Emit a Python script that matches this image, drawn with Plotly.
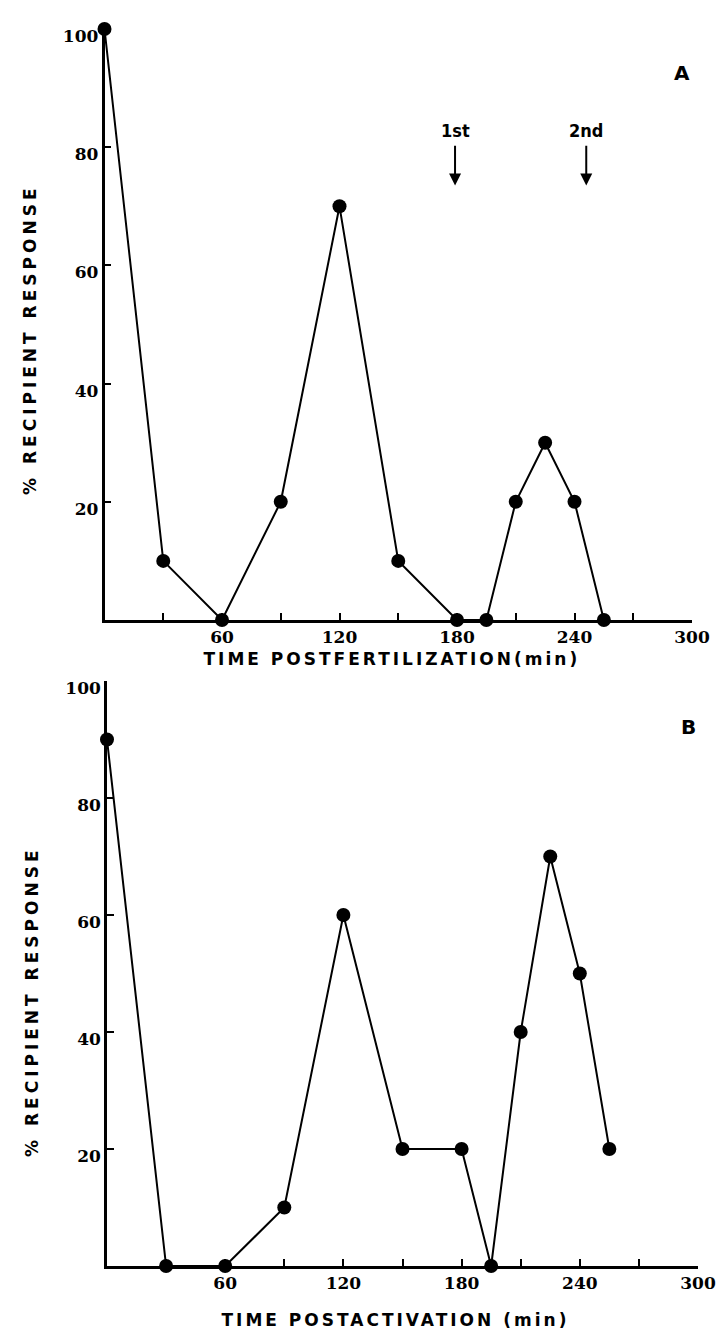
import plotly.graph_objects as go

# ---- data ----
time_a = [0, 30, 60, 90, 120, 150, 180, 195, 210, 225, 240, 255]
resp_a = [100, 10, 0, 20, 70, 10, 0, 0, 20, 30, 20, 0]

time_b = [0, 30, 60, 90, 120, 150, 180, 195, 210, 225, 240, 255]
resp_b = [90, 0, 0, 10, 60, 20, 20, 0, 40, 70, 50, 20]

x_tickvals = [30, 60, 90, 120, 150, 180, 210, 240, 270, 300]
x_ticktext = ["", "60", "", "120", "", "180", "", "240", "", "300"]
y_tickvals_a = [20, 40, 60, 80, 100]
y_tickvals_b = [20, 40, 60, 80, 100]
y_ticktext = ["20", "40", "60", "80", "100"]

arrow_times = [179, 246]
arrow_labels = ["1st", "2nd"]

x_title_a = "TIME POSTFERTILIZATION(min)"
x_title_b = "TIME POSTACTIVATION (min)"
y_title = "% RECIPIENT RESPONSE"

W, H = 721, 1336

tickfont = dict(family="DejaVu Serif", size=17, color="black", weight="bold")
titlefont = dict(family="DejaVu Sans", size=17, color="black", weight="bold")

fig = go.Figure()
line_style = dict(color="black", width=2)
marker_style = dict(color="black", size=14)

fig.add_trace(go.Scatter(x=time_a, y=resp_a, mode="lines+markers", line=line_style,
                         marker=marker_style, cliponaxis=False, xaxis="x", yaxis="y",
                         showlegend=False))
fig.add_trace(go.Scatter(x=time_b, y=resp_b, mode="lines+markers", line=line_style,
                         marker=marker_style, cliponaxis=False, xaxis="x2", yaxis="y2",
                         showlegend=False))

def xaxis(domain, anchor):
    return dict(domain=domain, anchor=anchor, range=[0, 300], showgrid=False, zeroline=False,
                showline=True, linecolor="black", linewidth=2.5,
                tickmode="array", tickvals=x_tickvals, ticktext=x_ticktext,
                ticks="inside", ticklen=7, tickwidth=1.5, tickcolor="black",
                tickfont=tickfont, ticklabelstandoff=0)

def yaxis(domain, anchor, tickvals):
    return dict(domain=domain, anchor=anchor, range=[0, 100], showgrid=False, zeroline=False,
                showline=True, linecolor="black", linewidth=2.5,
                tickmode="array", tickvals=tickvals, ticktext=y_ticktext,
                ticks="inside", ticklen=7, tickwidth=1.5, tickcolor="black",
                tickfont=tickfont, ticklabelshift=7, ticklabelstandoff=0)

xa = [104.5 / W, 692 / W]
ya = [1 - 620 / H, 1 - 29 / H]
xb = [107 / W, 698 / W]
yb = [1 - 1266 / H, 1 - 681 / H]

fig.update_layout(
    width=W, height=H, autosize=False,
    margin=dict(l=0, r=0, t=0, b=0, pad=0, autoexpand=False),
    paper_bgcolor="white", plot_bgcolor="white",
    xaxis=xaxis(xa, "y"),
    yaxis=yaxis(ya, "x", y_tickvals_a),
    xaxis2=xaxis(xb, "y2"),
    yaxis2=yaxis(yb, "x2", y_tickvals_b),
)

ann = []
# axis titles
ann.append(dict(text=x_title_a, xref="paper", yref="paper", x=392 / W, y=1 - 659 / H,
                showarrow=False, font=titlefont, xanchor="center", yanchor="middle"))
ann.append(dict(text=x_title_b, xref="paper", yref="paper", x=395 / W, y=1 - 1320 / H,
                showarrow=False, font=titlefont, xanchor="center", yanchor="middle"))
ann.append(dict(text=y_title, xref="paper", yref="paper", x=30 / W, y=1 - 340 / H,
                showarrow=False, font=titlefont, textangle=-90, xanchor="center", yanchor="middle"))
ann.append(dict(text=y_title, xref="paper", yref="paper", x=32 / W, y=1 - 1002 / H,
                showarrow=False, font=titlefont, textangle=-90, xanchor="center", yanchor="middle"))
# panel letters
ann.append(dict(text="A", xref="paper", yref="paper", x=682 / W, y=1 - 73 / H,
                showarrow=False, font=dict(family="DejaVu Sans", size=20, color="black", weight="bold"),
                xanchor="center", yanchor="middle"))
ann.append(dict(text="B", xref="paper", yref="paper", x=688 / W, y=1 - 727 / H,
                showarrow=False, font=dict(family="DejaVu Sans", size=20, color="black", weight="bold"),
                xanchor="center", yanchor="middle"))
# arrows
for t, lab in zip(arrow_times, arrow_labels):
    ann.append(dict(text="", x=t, y=73.5, ax=t, ay=80.5, xref="x", yref="y", axref="x", ayref="y",
                    showarrow=True, arrowhead=2, arrowsize=1.2, arrowwidth=2, arrowcolor="black"))
    ann.append(dict(text=lab, x=t, y=82.8, xref="x", yref="y", showarrow=False,
                    font=dict(family="DejaVu Sans Condensed", size=18, color="black", weight="bold"),
                    xanchor="center", yanchor="middle"))
fig.update_layout(annotations=ann)

post = """
document.body.style.margin='0';
document.body.style.overflow='hidden';
var spacing = {'%s': '3px', '%s': '3px', '%s': '4px'};
document.querySelectorAll('text.annotation-text').forEach(function(el){
  var s = spacing[el.textContent];
  if (s) { el.style.letterSpacing = s; }
});
""" % (x_title_a, x_title_b, y_title)

fig.write_html("out.html", post_script=post, config={"responsive": False, "displayModeBar": False})
